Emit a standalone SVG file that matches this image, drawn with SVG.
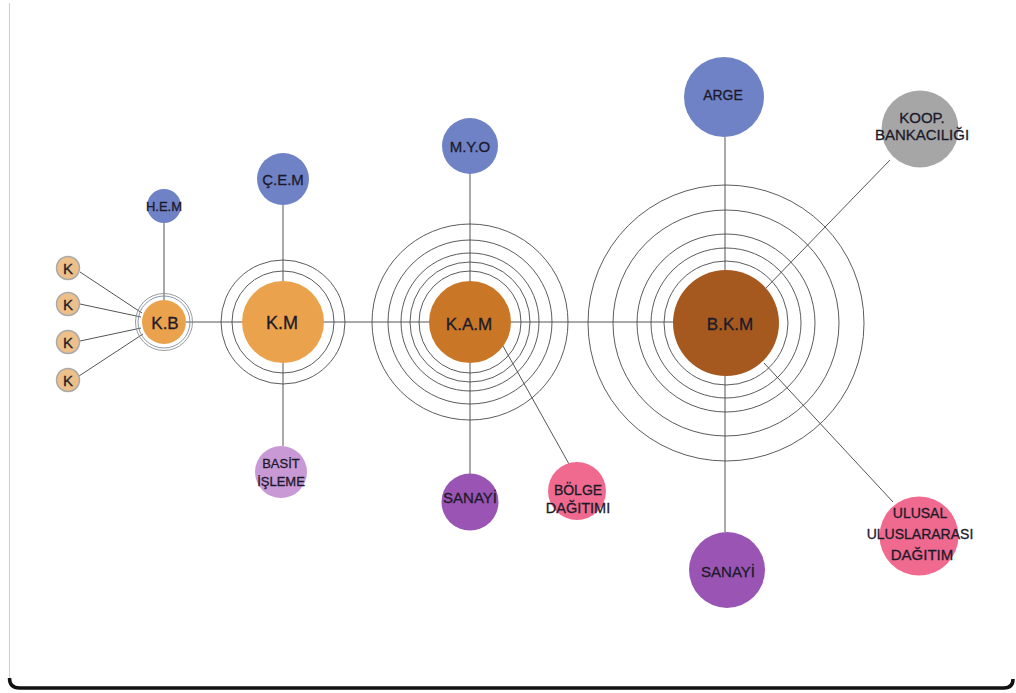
<svg xmlns="http://www.w3.org/2000/svg" width="1016" height="693" viewBox="0 0 1016 693">
<style>
.ln{stroke:#555;stroke-width:1;fill:none}
.ring{stroke:#4a4a4a;stroke-width:0.9;fill:none}
.lbl{font-family:"Liberation Sans",Arial,sans-serif;fill:#1c1a2a;stroke:#1c1a2a;stroke-width:0.3;text-anchor:middle}
.blue{fill:#6f82c6}
.or1{fill:#eba24c}
.or2{fill:#c97726}
.brn{fill:#a6591f}
.pur{fill:#9a55b4}
.lpur{fill:#c999d6}
.pink{fill:#ef6a8e}
.gray{fill:#a6a6a6}
.k{fill:#eebf88;stroke:#a9a9a9;stroke-width:1.5}
</style>
<rect x="0" y="0" width="1016" height="693" fill="#ffffff"/>
<g id="frame">
<path d="M9.5,3 V680" stroke="#cfcfcf" stroke-width="1" fill="none"/>
<path d="M9.5,678 Q9.5,688 19.5,688 H1004 Q1013,688 1013,679" stroke="#111" stroke-width="3.5" fill="none"/>
</g>
<g id="connectors">
<line class="ln" x1="186" y1="322" x2="674" y2="322"/>
<line class="ln" x1="164" y1="223" x2="164" y2="300"/>
<line class="ln" x1="80" y1="272" x2="142" y2="313"/>
<line class="ln" x1="80" y1="304" x2="141" y2="317"/>
<line class="ln" x1="80" y1="341" x2="141" y2="328"/>
<line class="ln" x1="79" y1="376" x2="143" y2="334"/>
<line class="ln" x1="283" y1="205" x2="283" y2="282"/>
<line class="ln" x1="283" y1="363" x2="283" y2="446"/>
<line class="ln" x1="470" y1="173" x2="470" y2="281"/>
<line class="ln" x1="470" y1="363" x2="470" y2="474"/>
<line class="ln" x1="503" y1="346" x2="569" y2="464"/>
<line class="ln" x1="725" y1="137" x2="725" y2="270"/>
<line class="ln" x1="725" y1="376" x2="725" y2="532"/>
<line class="ln" x1="890" y1="160" x2="766" y2="288"/>
<line class="ln" x1="764" y1="363" x2="893" y2="502"/>
</g>
<g id="rings">
<circle class="ring" cx="164" cy="322" r="26" style="stroke:#7d8da3"/>
<circle class="ring" cx="164" cy="322" r="28.5" style="stroke:#8f8f8f"/>
<circle class="ring" cx="283" cy="322" r="51"/>
<circle class="ring" cx="283" cy="322" r="62"/>
<circle class="ring" cx="470" cy="322" r="51"/>
<circle class="ring" cx="470" cy="322" r="60"/>
<circle class="ring" cx="470" cy="322" r="69"/>
<circle class="ring" cx="470" cy="322" r="82"/>
<circle class="ring" cx="470" cy="322" r="98"/>
<circle class="ring" cx="726" cy="323" r="62"/>
<circle class="ring" cx="726" cy="323" r="75"/>
<circle class="ring" cx="726" cy="323" r="89"/>
<circle class="ring" cx="726" cy="323" r="113"/>
<circle class="ring" cx="726" cy="323" r="138"/>
</g>
<g id="k1"><circle class="k" cx="68" cy="268" r="11.5"/><text class="lbl" x="68" y="273.5" font-size="15">K</text></g>
<g id="k2"><circle class="k" cx="68" cy="304" r="11.5"/><text class="lbl" x="68" y="309.5" font-size="15">K</text></g>
<g id="k3"><circle class="k" cx="68" cy="342" r="11.5"/><text class="lbl" x="68" y="347.5" font-size="15">K</text></g>
<g id="k4"><circle class="k" cx="68" cy="380" r="11.5"/><text class="lbl" x="68" y="385.5" font-size="15">K</text></g>
<g id="hem"><circle class="blue" cx="164" cy="206" r="17"/><text class="lbl" x="164" y="211" font-size="13">H.E.M</text></g>
<g id="kb"><circle class="or1" cx="164" cy="322" r="22"/><text class="lbl" x="165" y="328.5" font-size="17">K.B</text></g>
<g id="cem"><circle class="blue" cx="283" cy="179" r="26"/><text class="lbl" x="283" y="184.5" font-size="15">Ç.E.M</text></g>
<g id="km"><circle class="or1" cx="283" cy="322" r="41"/><text class="lbl" x="282" y="329" font-size="18">K.M</text></g>
<g id="basit"><circle class="lpur" cx="281" cy="472" r="26"/><text class="lbl" x="281" y="467.5" font-size="13">BASİT</text><text class="lbl" x="281" y="485.5" font-size="13">İŞLEME</text></g>
<g id="myo"><circle class="blue" cx="470" cy="146" r="28"/><text class="lbl" x="470" y="152" font-size="15">M.Y.O</text></g>
<g id="kam"><circle class="or2" cx="470" cy="322" r="41"/><text class="lbl" x="469" y="329.5" font-size="17">K.A.M</text></g>
<g id="sanayi1"><circle class="pur" cx="470" cy="502" r="28.5"/><text class="lbl" x="470" y="503" font-size="15">SANAYİ</text></g>
<g id="bolge"><circle class="pink" cx="577" cy="491" r="29"/><text class="lbl" x="578" y="495" font-size="14">BÖLGE</text><text class="lbl" x="578" y="512.5" font-size="14.5">DAĞITIMI</text></g>
<g id="bkm"><circle class="brn" cx="726" cy="323" r="53"/><text class="lbl" x="730" y="330" font-size="17">B.K.M</text></g>
<g id="arge"><circle class="blue" cx="724" cy="97" r="40"/><text class="lbl" x="723" y="100" font-size="14">ARGE</text></g>
<g id="koop"><circle class="gray" cx="920" cy="129" r="38.5"/><text class="lbl" x="922" y="123" font-size="15">KOOP.</text><text class="lbl" x="922" y="140" font-size="15">BANKACILIĞI</text></g>
<g id="sanayi2"><circle class="pur" cx="727" cy="570" r="38"/><text class="lbl" x="728" y="576.5" font-size="15">SANAYİ</text></g>
<g id="ulusal"><circle class="pink" cx="919" cy="536" r="39.5"/><text class="lbl" x="920" y="518" font-size="14">ULUSAL</text><text class="lbl" x="920" y="538.5" font-size="14">ULUSLARARASI</text><text class="lbl" x="922" y="559.5" font-size="15">DAĞITIM</text></g>
</svg>
